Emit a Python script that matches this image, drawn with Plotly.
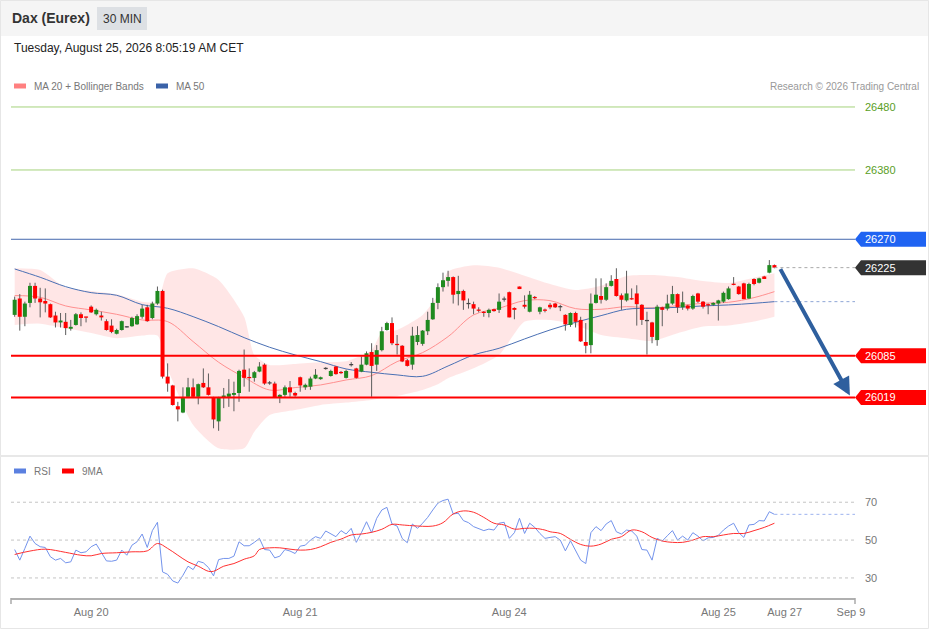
import plotly.graph_objects as go

# ---- data (30 min bars, index 0 = first bar) ----
opens = [26150, 26176, 26147, 26169, 26196, 26176, 26172, 26167, 26149, 26138,
         26139, 26128, 26134, 26151, 26147, 26163, 26151, 26149, 26140, 26133,
         26120, 26126, 26131, 26132, 26135, 26147, 26162, 26145, 26168, 26188,
         26052, 26038, 26005, 25995, 26020, 26035, 26020, 26042, 26035, 26019,
         25981, 26019, 26020, 26023, 26026, 26063, 26051, 26050, 26060, 26071,
         26042, 26041, 26019, 26023, 26035, 26026, 26051, 26035, 26036, 26049,
         26048, 26065, 26053, 26068, 26059, 26050, 26071, 26065, 26060, 26071,
         26091, 26071, 26094, 26126, 26137, 26104, 26101, 26078, 26071, 26107,
         26104, 26124, 26143, 26169, 26194, 26204, 26210, 26183, 26188, 26168,
         26167, 26158, 26155, 26153, 26159, 26158, 26175, 26186, 26161, 26195,
         26166, 26155, 26178, 26155, 26158, 26166, 26168, 26163, 26150, 26134,
         26153, 26142, 26107, 26102, 26169, 26180, 26174, 26196, 26207, 26181,
         26173, 26176, 26184, 26166, 26141, 26138, 26110, 26162, 26160, 26168,
         26183, 26162, 26165, 26160, 26184, 26171, 26167, 26166, 26168, 26171,
         26175, 26199, 26195, 26200, 26176, 26207, 26201, 26211, 26217, 26229]
closes = [26174, 26147, 26168, 26196, 26176, 26170, 26168, 26146, 26138, 26141,
          26129, 26131, 26151, 26145, 26146, 26154, 26158, 26146, 26126, 26123,
          26126, 26140, 26131, 26145, 26148, 26160, 26140, 26168, 26188, 26052,
          26041, 26007, 26000, 26018, 26035, 26020, 26040, 26035, 26023, 25984,
          26019, 26022, 26025, 26026, 26061, 26050, 26050, 26059, 26068, 26041,
          26042, 26019, 26023, 26035, 26027, 26022, 26038, 26039, 26049, 26055,
          26051, 26065, 26061, 26056, 26058, 26061, 26071, 26050, 26071, 26089,
          26069, 26094, 26124, 26137, 26105, 26102, 26076, 26069, 26117, 26118,
          26125, 26142, 26169, 26194, 26205, 26210, 26182, 26188, 26173, 26168,
          26160, 26157, 26153, 26158, 26156, 26171, 26175, 26146, 26158, 26191,
          26163, 26182, 26177, 26162, 26157, 26162, 26162, 26163, 26135, 26153,
          26139, 26108, 26101, 26168, 26182, 26174, 26194, 26204, 26180, 26174,
          26184, 26175, 26167, 26142, 26141, 26115, 26163, 26158, 26168, 26183,
          26162, 26170, 26160, 26180, 26171, 26163, 26165, 26169, 26173, 26185,
          26192, 26198, 26183, 26175, 26199, 26199, 26208, 26207, 26229, 26225]
highs = [26179, 26183, 26171, 26201, 26201, 26193, 26192, 26168, 26155, 26153,
         26153, 26142, 26153, 26154, 26147, 26165, 26160, 26155, 26143, 26143,
         26128, 26141, 26132, 26147, 26151, 26166, 26166, 26171, 26195, 26190,
         26073, 26039, 26012, 26035, 26050, 26049, 26041, 26065, 26057, 26020,
         26020, 26034, 26048, 26044, 26063, 26095, 26065, 26061, 26075, 26073,
         26045, 26044, 26024, 26038, 26045, 26028, 26052, 26041, 26052, 26064,
         26052, 26067, 26063, 26069, 26061, 26063, 26075, 26066, 26084, 26092,
         26105, 26102, 26131, 26139, 26146, 26118, 26102, 26080, 26131, 26132,
         26126, 26155, 26177, 26200, 26217, 26220, 26211, 26212, 26190, 26176,
         26171, 26162, 26156, 26160, 26160, 26184, 26179, 26187, 26162, 26195,
         26181, 26188, 26180, 26163, 26160, 26169, 26169, 26166, 26151, 26154,
         26155, 26147, 26137, 26184, 26208, 26208, 26200, 26213, 26224, 26184,
         26220, 26192, 26197, 26167, 26155, 26139, 26166, 26163, 26182, 26196,
         26184, 26187, 26166, 26182, 26185, 26172, 26168, 26170, 26174, 26187,
         26195, 26210, 26196, 26201, 26201, 26208, 26209, 26212, 26237, 26230]
lows = [26147, 26125, 26132, 26162, 26169, 26146, 26154, 26145, 26130, 26130,
        26118, 26125, 26133, 26132, 26138, 26153, 26149, 26141, 26125, 26121,
        26119, 26125, 26130, 26131, 26134, 26144, 26139, 26143, 26166, 26049,
        26028, 26006, 25981, 25994, 26018, 26018, 26008, 26034, 26022, 25970,
        25966, 26002, 26004, 25997, 26012, 26036, 26028, 26044, 26059, 26039,
        26039, 26018, 26010, 26020, 26020, 26020, 26028, 26031, 26031, 26048,
        26047, 26063, 26052, 26055, 26056, 26049, 26068, 26049, 26059, 26070,
        26020, 26061, 26092, 26125, 26102, 26087, 26075, 26068, 26063, 26102,
        26101, 26118, 26142, 26159, 26187, 26195, 26168, 26165, 26158, 26160,
        26151, 26154, 26147, 26146, 26155, 26153, 26171, 26146, 26143, 26191,
        26160, 26154, 26175, 26151, 26154, 26159, 26161, 26156, 26125, 26131,
        26130, 26107, 26089, 26089, 26168, 26168, 26172, 26195, 26179, 26158,
        26171, 26174, 26133, 26134, 26087, 26105, 26101, 26132, 26157, 26166,
        26153, 26158, 26157, 26158, 26169, 26160, 26151, 26164, 26141, 26169,
        26174, 26197, 26182, 26175, 26175, 26197, 26200, 26207, 26216, 26224]

# moving averages, read at sampled bars
ma_idx = [0, 5, 10, 15, 20, 25, 30, 35, 40, 45, 50, 55, 60, 65, 70, 75,
          80, 85, 90, 95, 100, 105, 110, 115, 120, 125, 130, 135, 140, 145, 149]
ma50 = [26222.9, 26209.7, 26194.8, 26185.3, 26181.1, 26166.3, 26160.5, 26147.2,
        26131.4, 26113.9, 26098.6, 26086.4, 26075.8, 26064.2, 26058.9, 26054.7,
        26052.5, 26068.9, 26086.4, 26097.0, 26111.8, 26126.1, 26138.2, 26148.8,
        26158.9, 26160.5, 26162.0, 26164.2, 26165.8, 26168.4, 26171.0]
ma20 = [26180.6, 26177.9, 26164.2, 26157.8, 26150.9, 26141.9, 26139.3, 26107.6,
        26074.8, 26050.9, 26030.8, 26034.6, 26038.8, 26046.7, 26053.6, 26075.8,
        26090.1, 26115.5, 26149.9, 26160.5, 26172.6, 26172.6, 26159.9, 26158.9,
        26163.1, 26161.0, 26164.7, 26168.4, 26170.0, 26177.4, 26186.9]

band_idx = [0, 5, 10, 15, 20, 25, 28, 30, 35, 40, 45, 47, 50, 55, 60, 65, 70, 72,
            75, 80, 83, 85, 90, 95, 100, 105, 110, 115, 120, 125, 130, 135, 140, 145, 149]
bb_upper = [26223.9, 26221.3, 26193.3, 26188.0, 26182.7, 26171.0, 26171.0, 26216.0,
            26223.9, 26205.4, 26147.2, 26086.4, 26070.5, 26072.1, 26074.8, 26076.3,
            26094.3, 26122.4, 26126.1, 26149.9, 26181.6, 26218.7, 26228.7, 26225.0,
            26212.3, 26199.1, 26189.6, 26196.4, 26211.8, 26213.4, 26210.2, 26203.8,
            26200.7, 26209.1, 26216.0]
bb_lower = [26134.0, 26136.1, 26128.7, 26121.3, 26112.9, 26117.1, 26117.1, 26065.0,
            25975.3, 25938.3, 25938.3, 25964.7, 25991.2, 25999.1, 26007.1, 26010.8,
            26015.0, 26018.0, 26021.3, 26030.8, 26040.0, 26049.4, 26065.2, 26086.4,
            26139.3, 26141.9, 26134.0, 26118.1, 26112.9, 26108.6, 26120.8, 26131.4,
            26133.0, 26139.3, 26147.2]

rsi = [45.0, 39.4, 45.6, 52.1, 48.2, 46.5, 46.1, 41.2, 39.4, 40.3,
       38.0, 38.5, 44.7, 43.3, 43.8, 46.5, 47.9, 43.8, 39.0, 38.8,
       39.4, 44.7, 42.0, 47.3, 49.1, 53.2, 46.1, 55.0, 59.4, 33.2,
       31.9, 28.4, 27.3, 31.4, 36.2, 34.4, 38.8, 38.0, 35.5, 31.1,
       39.7, 40.3, 40.3, 41.5, 49.1, 47.0, 47.0, 48.8, 50.9, 45.0,
       44.7, 40.6, 41.5, 45.0, 44.2, 42.9, 46.8, 47.3, 50.0, 51.8,
       50.9, 54.8, 53.2, 51.8, 55.0, 53.2, 56.2, 48.8, 53.9, 59.7,
       53.9, 61.5, 65.9, 67.3, 58.5, 57.4, 50.9, 48.6, 58.5, 56.2,
       58.9, 62.0, 65.9, 69.5, 70.9, 71.6, 63.8, 64.2, 60.3, 59.2,
       57.1, 56.2, 55.0, 55.8, 55.3, 58.9, 59.4, 50.9, 53.9, 61.5,
       53.5, 58.9, 56.7, 53.5, 50.9, 51.4, 51.8, 50.0, 44.3, 49.6,
       44.7, 39.4, 37.6, 53.9, 57.1, 55.0, 58.5, 60.3, 54.4, 53.2,
       55.3, 54.8, 52.1, 45.0, 44.7, 39.4, 50.9, 49.5, 52.3, 55.0,
       50.0, 52.1, 50.0, 53.9, 52.1, 49.6, 51.2, 51.4, 52.5, 55.3,
       57.4, 58.9, 53.9, 51.4, 58.0, 58.3, 60.3, 60.1, 65.0, 63.6]

rsi_ma_idx = [0, 3, 6, 10, 13, 15, 17, 20, 23, 26, 28, 30, 32, 34, 36, 38, 39, 41,
              43, 45, 47, 48, 50, 52, 54, 56, 58, 60, 62, 64, 66, 68, 70, 72, 74, 76,
              78, 82, 84, 86, 88, 90, 92, 94, 96, 98, 100, 102, 104, 105, 107, 109,
              111, 113, 115, 117, 119, 121, 123, 125, 127, 129, 131, 133, 135, 137,
              139, 141, 143, 145, 147, 149]
rsi_ma = [42.4, 44.2, 45.2, 43.5, 42.0, 41.7, 42.9, 43.3, 43.8, 44.3, 48.2, 45.6,
          42.0, 38.5, 36.2, 33.5, 33.5, 36.2, 37.6, 39.9, 41.7, 45.0, 45.9, 45.9,
          45.2, 44.7, 45.0, 46.5, 48.8, 50.5, 52.7, 53.2, 54.1, 55.7, 58.3, 58.0,
          57.6, 57.4, 59.2, 63.8, 65.4, 64.7, 62.0, 58.9, 58.0, 55.8, 56.2, 56.2,
          55.3, 54.4, 53.5, 50.4, 47.7, 46.8, 47.9, 50.4, 51.8, 55.3, 54.4, 51.4,
          49.5, 48.8, 48.8, 50.0, 51.8, 51.8, 52.7, 53.5, 53.5, 55.0, 56.7, 58.9]

resistance_levels = [26480, 26380]
pivot_level = 26270
support_levels = [26085, 26019]
target_level = 26019
rsi_levels = [70, 50, 30]

tick_idx = [15, 56, 97, 138, 151, 164]
tick_text = ["Aug 20", "Aug 21", "Aug 24", "Aug 25", "Aug 27", "Sep 9"]

assert len(opens) == len(closes) == len(highs) == len(lows) == len(rsi) == 150

bars = list(range(len(closes)))
last_bar = bars[-1]
last_close = closes[-1]

W, H = 929, 629
FONT = "Liberation Sans, Arial, sans-serif"
X0, X1 = 11, 855          # plot area left / right in pixels
X_RANGE = [-0.72, 164.8]


def px(x):
    return x / W


def py(y):
    return 1 - y / H


fig = go.Figure()

# Bollinger band
fig.add_trace(go.Scatter(x=band_idx, y=bb_upper, mode="lines", line=dict(width=0, shape="spline", smoothing=0.6),
                         hoverinfo="skip", showlegend=False))
fig.add_trace(go.Scatter(x=band_idx, y=bb_lower, mode="lines", line=dict(width=0, shape="spline", smoothing=0.6),
                         fill="tonexty", fillcolor="rgba(255,214,214,0.6)", hoverinfo="skip", showlegend=False))
fig.add_trace(go.Scatter(x=ma_idx, y=ma20, mode="lines",
                         line=dict(color="#ff9090", width=1, shape="spline"), showlegend=False))
fig.add_trace(go.Scatter(x=ma_idx, y=ma50, mode="lines",
                         line=dict(color="#4a70b4", width=1, shape="spline"), showlegend=False))

# candles: grey wicks, then coloured bodies drawn as thick segments on top
wick_x, wick_y = [], []
for i in bars:
    wick_x += [i, i, None]
    wick_y += [lows[i], highs[i], None]
fig.add_trace(go.Scatter(x=wick_x, y=wick_y, mode="lines", line=dict(color="#5c5c5c", width=1),
                         hoverinfo="skip", showlegend=False))

MIN_BODY = 2.0
for kind, color in (("up", "#1f8a1f"), ("down", "#ff0000"), ("flat", "#444444")):
    bx, by = [], []
    for i in bars:
        o, c = opens[i], closes[i]
        k = "flat" if abs(c - o) < 1 else ("up" if c > o else "down")
        if k != kind:
            continue
        lo, hi = min(o, c), max(o, c)
        if hi - lo < MIN_BODY:
            mid = (hi + lo) / 2
            lo, hi = mid - MIN_BODY / 2, mid + MIN_BODY / 2
        bx += [i, i, None]
        by += [lo, hi, None]
    fig.add_trace(go.Scatter(x=bx, y=by, mode="lines", line=dict(color=color, width=4),
                             hoverinfo="skip", showlegend=False))

# RSI panel
fig.add_trace(go.Scatter(x=bars, y=rsi, mode="lines", line=dict(color="#7393ec", width=1),
                         xaxis="x2", yaxis="y2", showlegend=False))
fig.add_trace(go.Scatter(x=rsi_ma_idx, y=rsi_ma, mode="lines", line=dict(color="#ff3030", width=1, shape="spline"),
                         xaxis="x2", yaxis="y2", showlegend=False))

shapes = []
annotations = []

# header strip and frame
shapes.append(dict(type="rect", xref="paper", yref="paper", x0=0, x1=1, y0=py(36), y1=1,
                   fillcolor="#f5f5f5", line=dict(width=0), layer="below"))
shapes.append(dict(type="rect", xref="paper", yref="paper", x0=px(97), x1=px(147), y0=py(30), y1=py(7),
                   fillcolor="#dde0e4", line=dict(width=0), layer="below"))
shapes.append(dict(type="rect", xref="paper", yref="paper", x0=px(0.5), x1=px(928.5), y0=py(628.5), y1=py(0.5),
                   line=dict(color="#e6e6e6", width=1)))
shapes.append(dict(type="line", xref="paper", yref="paper", x0=0, x1=1, y0=py(456), y1=py(456),
                   line=dict(color="#e8e8e8", width=2)))

annotations.append(dict(text="<b>Dax (Eurex)</b>", x=px(10), y=py(18), xref="paper", yref="paper",
                        xanchor="left", yanchor="middle", showarrow=False,
                        font=dict(family=FONT, size=14, color="#333333")))
annotations.append(dict(text="30 MIN", x=px(122), y=py(18.5), xref="paper", yref="paper",
                        xanchor="center", yanchor="middle", showarrow=False,
                        font=dict(family=FONT, size=12, color="#333333")))
annotations.append(dict(text="Tuesday, August 25, 2026 8:05:19 AM CET", x=px(12), y=py(48), xref="paper",
                        yref="paper", xanchor="left", yanchor="middle", showarrow=False,
                        font=dict(family=FONT, size=12, color="#222222")))
annotations.append(dict(text="Research © 2026 Trading Central", x=px(921), y=py(86), xref="paper", yref="paper",
                        xanchor="right", yanchor="middle", showarrow=False,
                        font=dict(family=FONT, size=10, color="#999999")))


def legend_item(x, y, color, label):
    shapes.append(dict(type="rect", xref="paper", yref="paper", x0=px(x), x1=px(x + 12),
                       y0=py(y + 2.5), y1=py(y - 2.5), fillcolor=color, line=dict(width=0)))
    annotations.append(dict(text=label, x=px(x + 18), y=py(y), xref="paper", yref="paper",
                            xanchor="left", yanchor="middle", showarrow=False,
                            font=dict(family=FONT, size=10, color="#777777")))


legend_item(14, 86, "#ff8080", "MA 20 + Bollinger Bands")
legend_item(156, 86, "#3a62a8", "MA 50")
legend_item(14, 471, "#5b80e0", "RSI")
legend_item(62, 471, "#ff0000", "9MA")

# price levels
PX_PER_PT = 360 / (26499.0 - 25927.6)


def tag(level, color):
    d = 7.5 / PX_PER_PT
    path = (f"M {px(855)},{level} L {px(861)},{level + d} L {px(926)},{level + d} "
            f"L {px(926)},{level - d} L {px(861)},{level - d} Z")
    shapes.append(dict(type="path", xref="paper", yref="y", path=path, fillcolor=color, line=dict(width=0)))
    annotations.append(dict(text=str(level), x=px(863), y=level, xref="paper", yref="y",
                            xanchor="left", yanchor="middle", showarrow=False,
                            font=dict(family=FONT, size=11, color="white")))


for lvl in resistance_levels:
    shapes.append(dict(type="line", xref="paper", yref="y", x0=px(X0), x1=px(X1), y0=lvl, y1=lvl,
                       line=dict(color="#a5d27c", width=1)))
    annotations.append(dict(text=str(lvl), x=px(863), y=lvl, xref="paper", yref="y", xanchor="left",
                            yanchor="middle", showarrow=False, font=dict(family=FONT, size=11, color="#5a9e26")))

shapes.append(dict(type="line", xref="paper", yref="y", x0=px(X0), x1=px(X1), y0=pivot_level, y1=pivot_level,
                   line=dict(color="#4467ad", width=1)))
tag(pivot_level, "#1f63f2")

for lvl in support_levels:
    shapes.append(dict(type="line", xref="paper", yref="y", x0=px(X0), x1=px(X1), y0=lvl, y1=lvl,
                       line=dict(color="#ff0000", width=2)))
    tag(lvl, "#ff0000")

shapes.append(dict(type="line", xref="x", yref="y", x0=last_bar, x1=X_RANGE[1], y0=last_close, y1=last_close,
                   line=dict(color="#aaaaaa", width=1, dash="dot")))
tag(last_close, "#333333")
shapes.append(dict(type="line", xref="x", yref="y", x0=last_bar, x1=X_RANGE[1], y0=ma50[-1], y1=ma50[-1],
                   line=dict(color="#8ea6d6", width=1, dash="dot")))

# forecast arrow
annotations.append(dict(x=163.8, y=target_level + 3, ax=last_bar + 1, ay=last_close, xref="x", yref="y",
                        axref="x", ayref="y", text="", showarrow=True, arrowhead=2, arrowsize=0.9,
                        arrowwidth=4, arrowcolor="#2e5f9e", standoff=0))

# RSI guides
for lvl in rsi_levels:
    shapes.append(dict(type="line", xref="paper", yref="y2", x0=px(X0), x1=px(X1), y0=lvl, y1=lvl,
                       line=dict(color="#c4c4c4", width=1, dash="dot")))
    annotations.append(dict(text=str(lvl), x=px(863), y=lvl, xref="paper", yref="y2", xanchor="left",
                            yanchor="middle", showarrow=False, font=dict(family=FONT, size=11, color="#777777")))
shapes.append(dict(type="line", xref="x2", yref="y2", x0=last_bar, x1=X_RANGE[1], y0=rsi[-1], y1=rsi[-1],
                   line=dict(color="#9db3ef", width=1, dash="dot")))
for xe in (X0, X1):
    shapes.append(dict(type="line", xref="paper", yref="paper", x0=px(xe), x1=px(xe), y0=py(598), y1=py(604),
                       line=dict(color="#aaaaaa", width=1.5)))

fig.update_layout(
    width=W, height=H, margin=dict(l=0, r=0, t=0, b=0, pad=0, autoexpand=False), autosize=False,
    paper_bgcolor="white", plot_bgcolor="white",
    xaxis=dict(domain=[px(X0), px(X1)], range=X_RANGE, visible=False, anchor="y", automargin=False),
    yaxis=dict(domain=[py(455), py(95)], range=[25927.6, 26499.0], visible=False, anchor="x", automargin=False),
    xaxis2=dict(domain=[px(X0), px(X1)], range=X_RANGE, anchor="y2", showline=True, linecolor="#b0b0b0",
                linewidth=2, showgrid=False, zeroline=False, tickvals=tick_idx, ticktext=tick_text,
                ticks="outside", ticklen=3, tickcolor="rgba(0,0,0,0)", automargin=False,
                tickfont=dict(family=FONT, size=11, color="#777777")),
    yaxis2=dict(domain=[py(598), py(485)], range=[19.4, 79.1], visible=False, anchor="x2", automargin=False),
    shapes=shapes, annotations=annotations, hovermode=False,
)

fig.write_html("out.html", config={"displayModeBar": False, "responsive": False},
               post_script="document.body.style.margin='0';document.body.style.overflow='hidden';")
